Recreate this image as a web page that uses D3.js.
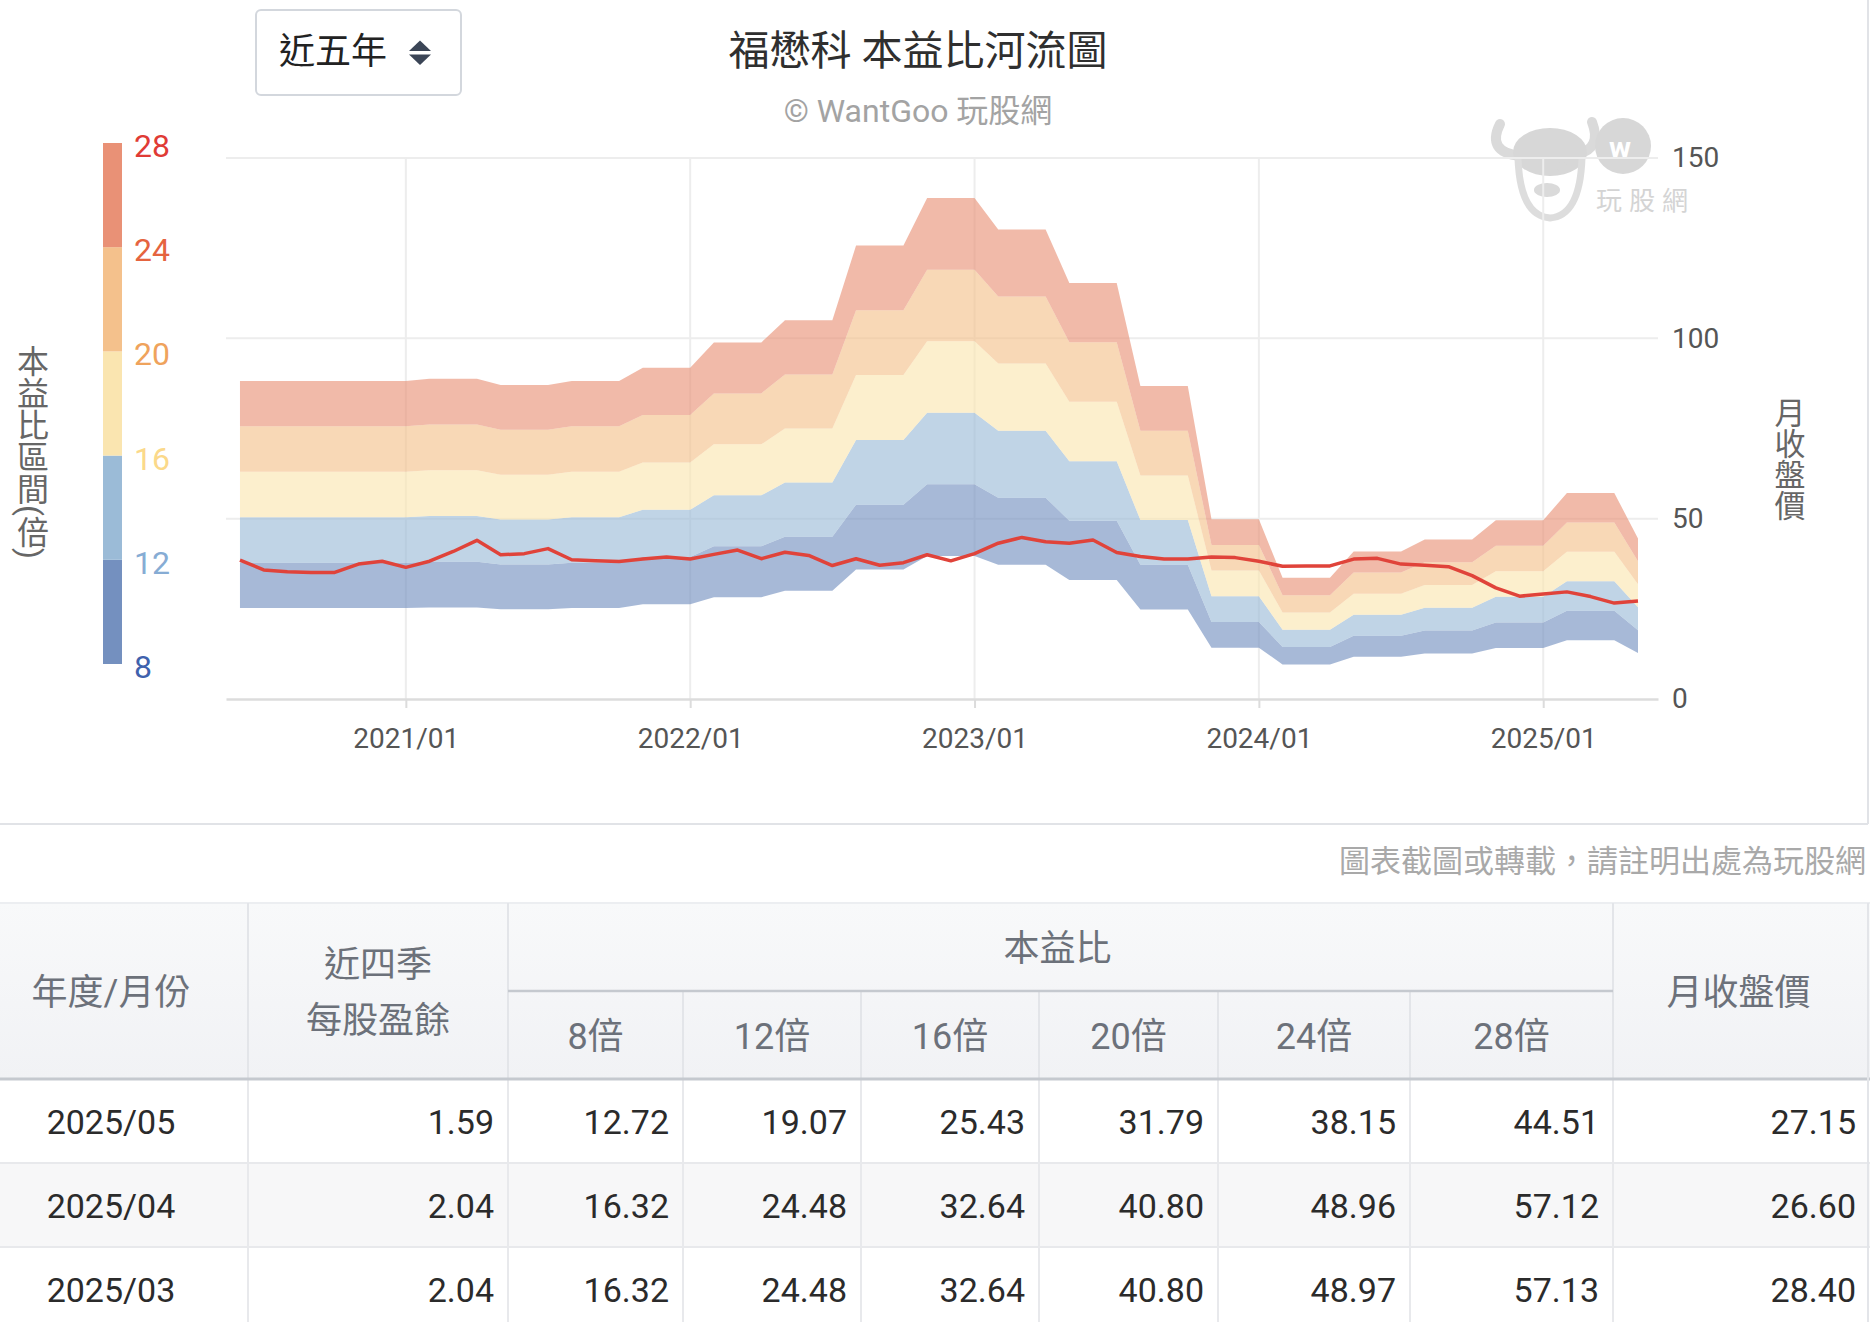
<!DOCTYPE html>
<html>
<head>
<meta charset="utf-8">
<script src="https://cdn.jsdelivr.net/npm/d3@7"></script>
<style>
html, body { margin: 0; padding: 0; background: #fff; }
svg { display: block; font-family: Roboto, "Noto Sans CJK TC", sans-serif; }
</style>
</head>
<body>
<svg id="chart" width="1876" height="1322"></svg>
<script>
// monthly data, 2020/06 .. 2025/05
var months = [
    "2020/06", "2020/07", "2020/08", "2020/09", "2020/10", "2020/11", "2020/12",
    "2021/01", "2021/02", "2021/03", "2021/04", "2021/05", "2021/06", "2021/07", "2021/08", "2021/09", "2021/10", "2021/11", "2021/12",
    "2022/01", "2022/02", "2022/03", "2022/04", "2022/05", "2022/06", "2022/07", "2022/08", "2022/09", "2022/10", "2022/11", "2022/12",
    "2023/01", "2023/02", "2023/03", "2023/04", "2023/05", "2023/06", "2023/07", "2023/08", "2023/09", "2023/10", "2023/11", "2023/12",
    "2024/01", "2024/02", "2024/03", "2024/04", "2024/05", "2024/06", "2024/07", "2024/08", "2024/09", "2024/10", "2024/11", "2024/12",
    "2025/01", "2025/02", "2025/03", "2025/04", "2025/05"
];
// trailing four-quarter EPS
var eps = [
    3.15, 3.15, 3.15, 3.15, 3.15, 3.15, 3.15,
    3.15, 3.17, 3.17, 3.17, 3.11, 3.11, 3.11, 3.15, 3.15, 3.15, 3.28, 3.28,
    3.28, 3.53, 3.53, 3.53, 3.75, 3.75, 3.75, 4.49, 4.49, 4.49, 4.96, 4.96,
    4.96, 4.65, 4.65, 4.65, 4.12, 4.12, 4.12, 3.10, 3.10, 3.10, 1.78, 1.78,
    1.78, 1.20, 1.20, 1.20, 1.46, 1.46, 1.46, 1.58, 1.58, 1.58, 1.77, 1.77,
    1.77, 2.04, 2.04, 2.04, 1.59
];
// monthly close
var price = [
    38.5, 35.8, 35.3, 35.1, 35.1, 37.4, 38.2,
    36.5, 38.2, 40.9, 44.0, 40.0, 40.3, 41.7, 38.6, 38.3, 38.1, 38.8, 39.4,
    38.8, 40.1, 41.3, 38.9, 40.7, 39.8, 37.0, 38.9, 37.1, 37.8, 40.0, 38.3,
    40.3, 43.2, 44.8, 43.6, 43.2, 44.1, 40.6, 39.5, 38.8, 38.8, 39.4, 39.2,
    38.2, 36.8, 36.9, 36.9, 38.8, 39.0, 37.4, 37.1, 36.7, 34.2, 30.8, 28.5,
    29.1, 29.7, 28.40, 26.60, 27.15
];
var multiples = [8, 12, 16, 20, 24, 28];
var bandColors = ["#7490bf", "#9bbbd7", "#fae5b0", "#f4c18c", "#e99176"];
var scaleLabelColors = ["#3f62ad", "#86acd4", "#fbd98a", "#efa35c", "#e5643f", "#e03b35"];
var priceTicks = [0, 50, 100, 150];

// table
var tableMonths = ["2025/05", "2025/04", "2025/03"];
var tableEps = ["1.59", "2.04", "2.04"];
var tablePE = [
    ["12.72", "19.07", "25.43", "31.79", "38.15", "44.51"],
    ["16.32", "24.48", "32.64", "40.80", "48.96", "57.12"],
    ["16.32", "24.48", "32.64", "40.80", "48.97", "57.13"]
];
var tablePrice = ["27.15", "26.60", "28.40"];

var svg = d3.select("#chart"),
    plotL = 226, plotR = 1658, plotT = 158, plotB = 699,
    edgeR = 1868;

var x = d3.scaleLinear().domain([-0.59, months.length - 1 + 0.844]).range([plotL, plotR]),
    y = d3.scaleLinear().domain([0, 150]).range([plotB, plotT]);

var yearIdx = months.map(function (m, i) { return m.slice(5) == "01" ? i : -1 }).filter(function (i) { return i >= 0 });

// container border
svg.append("line").attr("x1", edgeR).attr("x2", edgeR).attr("y1", 0).attr("y2", 824)
    .attr("stroke", "#e1e3e7").attr("stroke-width", 2);
svg.append("line").attr("x1", 0).attr("x2", edgeR).attr("y1", 824).attr("y2", 824)
    .attr("stroke", "#e1e3e7").attr("stroke-width", 2);

// dropdown
var dd = svg.append("g");
dd.append("rect").attr("x", 256).attr("y", 10).attr("width", 205).attr("height", 85).attr("rx", 5)
    .attr("fill", "#fff").attr("stroke", "#d3d7dd").attr("stroke-width", 2);
dd.append("text").attr("x", 279).attr("y", 52).attr("dominant-baseline", "central")
    .style("font-size", "36px").attr("fill", "#222").text("近五年");
dd.append("path").attr("d", "M409,51L431,51L420,40.5Z").attr("fill", "#3b4556");
dd.append("path").attr("d", "M409,54.5L431,54.5L420,65Z").attr("fill", "#3b4556");

// title
svg.append("text").attr("x", 918).attr("y", 51).attr("text-anchor", "middle").attr("dominant-baseline", "central")
    .style("font-size", "41px").style("font-weight", 400).attr("fill", "#2f2f2f").text("福懋科 本益比河流圖");
svg.append("text").attr("x", 918).attr("y", 111).attr("text-anchor", "middle").attr("dominant-baseline", "central")
    .style("font-size", "32px").attr("fill", "#a3a3a3").text("© WantGoo 玩股網");

// watermark
var wm = svg.append("g").attr("opacity", 0.9);
wm.append("path").attr("d", "M1500,124 Q1486,152 1520,156").attr("fill", "none").attr("stroke", "#d6d6d6").attr("stroke-width", 10).attr("stroke-linecap", "round");
wm.append("path").attr("d", "M1592,122 Q1602,148 1578,154").attr("fill", "none").attr("stroke", "#d6d6d6").attr("stroke-width", 10).attr("stroke-linecap", "round");
wm.append("ellipse").attr("cx", 1550).attr("cy", 152).attr("rx", 37).attr("ry", 24).attr("fill", "#d3d3d3");
wm.append("path").attr("d", "M1518,158 Q1520,216 1550,218 Q1580,216 1582,158").attr("fill", "none").attr("stroke", "#dadada").attr("stroke-width", 7);
wm.append("circle").attr("cx", 1562).attr("cy", 167).attr("r", 5).attr("fill", "#d3d3d3");
wm.append("ellipse").attr("cx", 1547).attr("cy", 190).attr("rx", 13).attr("ry", 7).attr("fill", "#d6d6d6");
wm.append("circle").attr("cx", 1623).attr("cy", 146).attr("r", 28).attr("fill", "#d3d3d3");
wm.append("text").attr("x", 1620).attr("y", 147).attr("text-anchor", "middle").attr("dominant-baseline", "central")
    .style("font-size", "30px").style("font-weight", 700).attr("fill", "#fff").text("w");
wm.append("text").attr("x", 1596).attr("y", 201).attr("dominant-baseline", "central")
    .style("font-size", "26px").style("letter-spacing", "7px").attr("fill", "#d0d0d0").text("玩股網");

// grid
svg.append("g").selectAll("line").data(priceTicks.filter(function (d) { return d > 0 })).enter().append("line")
    .attr("x1", plotL).attr("x2", plotR).attr("y1", y).attr("y2", y)
    .attr("stroke", "#ededed").attr("stroke-width", 2);
svg.append("g").selectAll("line").data(yearIdx).enter().append("line")
    .attr("x1", x).attr("x2", x).attr("y1", plotT).attr("y2", plotB)
    .attr("stroke", "#ededed").attr("stroke-width", 2);

// river bands
var bands = d3.range(multiples.length - 1).map(function (k) {
    return { k: k, lo: multiples[k], hi: multiples[k + 1] }
});
svg.append("g").selectAll("path").data(bands).enter().append("path")
    .attr("d", function (b) {
        return d3.area()
            .x(function (d, i) { return x(i) })
            .y0(function (d) { return y(d * b.lo) })
            .y1(function (d) { return y(d * b.hi) })(eps)
    })
    .attr("fill", function (b) { return bandColors[b.k] })
    .attr("fill-opacity", 0.63);

// price line
svg.append("path").datum(price)
    .attr("d", d3.line().x(function (d, i) { return x(i) }).y(function (d) { return y(d) }))
    .attr("fill", "none").attr("stroke", "#e0433a").attr("stroke-width", 3.5).attr("stroke-linejoin", "round");

// x axis
var gx = svg.append("g").attr("transform", "translate(0," + plotB + ")")
    .call(d3.axisBottom(x).tickValues(yearIdx).tickFormat(function (i) { return months[i] })
        .tickSize(9).tickSizeOuter(0).tickPadding(20));
gx.select(".domain").attr("stroke", "#dcdcdc").attr("stroke-width", 2.5);
gx.selectAll(".tick line").attr("stroke", "#dcdcdc").attr("stroke-width", 2);
gx.selectAll(".tick text").style("font-size", "28px").style("font-family", "Roboto").attr("fill", "#555");

// right axis
var gy = svg.append("g").attr("transform", "translate(" + plotR + ",0)")
    .call(d3.axisRight(y).tickValues(priceTicks).tickSize(0).tickPadding(14));
gy.select(".domain").remove();
gy.selectAll(".tick text").style("font-size", "28px").style("font-family", "Roboto").attr("fill", "#555");

svg.append("text").attr("x", 1787).attr("y", 397).style("writing-mode", "vertical-rl")
    .style("font-size", "31px").attr("fill", "#666").text("月收盤價");
svg.append("text").attr("x", 30).attr("y", 345).style("writing-mode", "vertical-rl")
    .style("font-size", "32px").attr("fill", "#666").text("本益比區間(倍)");

// colour scale bar
var cy = d3.scaleLinear().domain([8, 28]).range([664, 143]);
svg.append("g").selectAll("rect").data(bands).enter().append("rect")
    .attr("x", 103).attr("width", 19)
    .attr("y", function (b) { return cy(b.hi) })
    .attr("height", function (b) { return cy(b.lo) - cy(b.hi) })
    .attr("fill", function (b) { return bandColors[b.k] });
svg.append("g").selectAll("text").data(multiples).enter().append("text")
    .attr("x", 134).attr("y", function (d) { return cy(d) + 3 })
    .attr("dominant-baseline", "central")
    .style("font-size", "32px").style("font-family", "Roboto")
    .attr("fill", function (d, i) { return scaleLabelColors[i] })
    .text(function (d) { return d });

// note
svg.append("text").attr("x", 1866).attr("y", 861).attr("text-anchor", "end").attr("dominant-baseline", "central")
    .style("font-size", "31px").attr("fill", "#a9a9a9").text("圖表截圖或轉載，請註明出處為玩股網");

// table
var colEdges = [0, 248, 508, 683, 861, 1039, 1218, 1410, 1613, 1870],
    hTop = 903, hMid = 991, hBot = 1079, rowH = 84,
    tb = svg.append("g");

var grad = svg.append("defs").append("linearGradient").attr("id", "hdr").attr("x1", 0).attr("x2", 0).attr("y1", 0).attr("y2", 1);
grad.append("stop").attr("offset", "0%").attr("stop-color", "#f8f9fa");
grad.append("stop").attr("offset", "100%").attr("stop-color", "#f1f2f5");

tb.append("rect").attr("x", 0).attr("y", hTop).attr("width", colEdges[9]).attr("height", hBot - hTop).attr("fill", "url(#hdr)");
tableMonths.forEach(function (m, r) {
    tb.append("rect").attr("x", 0).attr("y", hBot + r * rowH).attr("width", colEdges[9]).attr("height", rowH)
        .attr("fill", r % 2 ? "#f7f7f8" : "#fff");
});
tb.append("line").attr("x1", 0).attr("x2", colEdges[9]).attr("y1", hTop).attr("y2", hTop).attr("stroke", "#eceef1").attr("stroke-width", 2);

// header dividers
[1, 2, 8].forEach(function (c) {
    tb.append("line").attr("x1", colEdges[c]).attr("x2", colEdges[c]).attr("y1", hTop).attr("y2", hBot).attr("stroke", "#e3e5e9").attr("stroke-width", 2);
});
[3, 4, 5, 6, 7].forEach(function (c) {
    tb.append("line").attr("x1", colEdges[c]).attr("x2", colEdges[c]).attr("y1", hMid).attr("y2", hBot).attr("stroke", "#e3e5e9").attr("stroke-width", 2);
});
tb.append("line").attr("x1", colEdges[2]).attr("x2", colEdges[8]).attr("y1", hMid).attr("y2", hMid).attr("stroke", "#c5c9cf").attr("stroke-width", 2.5);

// body dividers
d3.range(1, 9).forEach(function (c) {
    tb.append("line").attr("x1", colEdges[c]).attr("x2", colEdges[c]).attr("y1", hBot).attr("y2", 1322).attr("stroke", "#e8e9ec").attr("stroke-width", 2);
});
[1, 2].forEach(function (r) {
    tb.append("line").attr("x1", 0).attr("x2", colEdges[9]).attr("y1", hBot + r * rowH).attr("y2", hBot + r * rowH).attr("stroke", "#e8e9ec").attr("stroke-width", 2);
});
tb.append("line").attr("x1", 0).attr("x2", colEdges[9]).attr("y1", hBot).attr("y2", hBot).attr("stroke", "#c5c9cf").attr("stroke-width", 3);
tb.append("line").attr("x1", edgeR).attr("x2", edgeR).attr("y1", hTop).attr("y2", 1322).attr("stroke", "#e3e5e9").attr("stroke-width", 2);

function hText(tx, ty, s) {
    tb.append("text").attr("x", tx).attr("y", ty).attr("text-anchor", "middle").attr("dominant-baseline", "central")
        .style("font-size", "36px").attr("fill", "#6c717a").text(s);
}
hText(111, 993, "年度/月份");
hText((colEdges[1] + colEdges[2]) / 2, 965, "近四季");
hText((colEdges[1] + colEdges[2]) / 2, 1021, "每股盈餘");
hText((colEdges[2] + colEdges[8]) / 2 - 3, 949, "本益比");
multiples.forEach(function (m, i) {
    hText((colEdges[i + 2] + colEdges[i + 3]) / 2, 1037, m + "倍");
});
hText((colEdges[8] + colEdges[9]) / 2 - 3, 993, "月收盤價");

tableMonths.forEach(function (m, r) {
    var ty = hBot + r * rowH + rowH / 2 + 1,
        cells = [tableEps[r]].concat(tablePE[r]).concat([tablePrice[r]]);
    tb.append("text").attr("x", 111).attr("y", ty).attr("text-anchor", "middle").attr("dominant-baseline", "central")
        .style("font-size", "34px").attr("fill", "#2b2b2b").text(m);
    cells.forEach(function (v, c) {
        tb.append("text").attr("x", colEdges[c + 2] - 14).attr("y", ty).attr("text-anchor", "end").attr("dominant-baseline", "central")
            .style("font-size", "34px").attr("fill", "#2b2b2b").text(v);
    });
});
</script>
</body>
</html>
